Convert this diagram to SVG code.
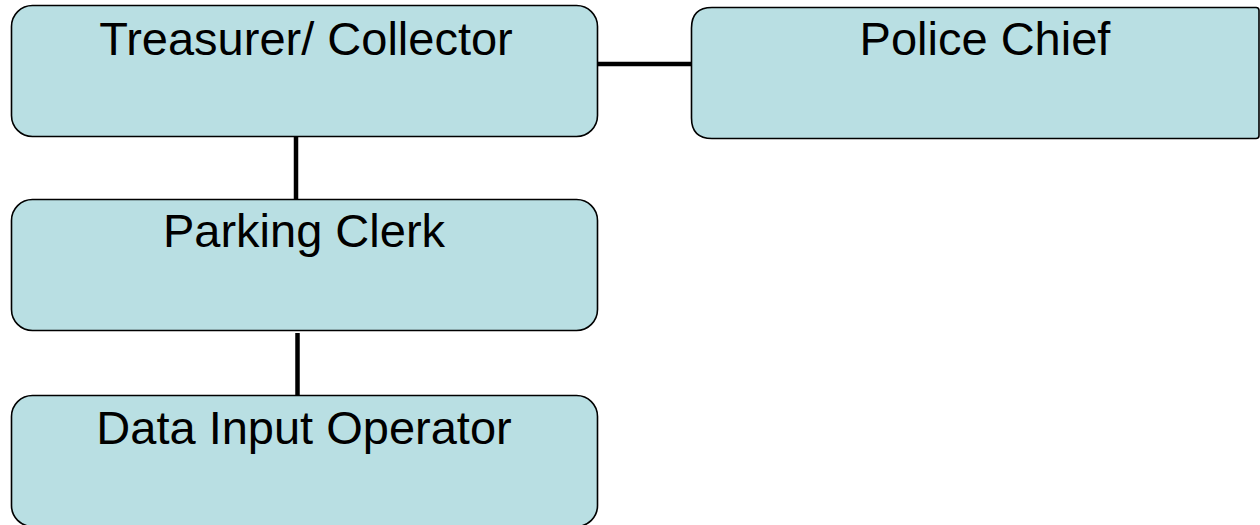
<svg xmlns="http://www.w3.org/2000/svg" width="1260" height="525" viewBox="0 0 1260 525">
<style>
.box{fill:#b9dfe3;stroke:#000;stroke-width:1.6}
.lbl{font-family:"Liberation Sans",Arial,sans-serif;font-size:47px;fill:#000;text-anchor:middle}
.conn{stroke:#000;stroke-width:4.5;fill:none}
</style>
<rect width="1260" height="525" fill="#fff"/>
<g id="connectors">
<line class="conn" x1="597" y1="64" x2="691" y2="64"/>
<line class="conn" x1="296" y1="136" x2="296" y2="199"/>
<line class="conn" x1="297.5" y1="333" x2="297.5" y2="395"/>
</g>
<g id="treasurer">
<rect class="box" x="11.5" y="5.5" width="586" height="131" rx="21"/>
<text class="lbl" x="306" y="55">Treasurer/ Collector</text>
</g>
<g id="police">
<path class="box" d="M712,7.5 H1256 Q1259,7.5 1259,10.5 V135.5 Q1259,138.5 1256,138.5 H712 Q691.5,138.5 691.5,118 V28 Q691.5,7.5 712,7.5 Z"/>
<text class="lbl" x="985" y="55">Police Chief</text>
</g>
<g id="parking">
<rect class="box" x="11.5" y="199.5" width="586" height="131" rx="21"/>
<text class="lbl" x="304" y="247">Parking Clerk</text>
</g>
<g id="data">
<rect class="box" x="11.5" y="395.5" width="586" height="131" rx="21"/>
<text class="lbl" x="304" y="444">Data Input Operator</text>
</g>
</svg>
